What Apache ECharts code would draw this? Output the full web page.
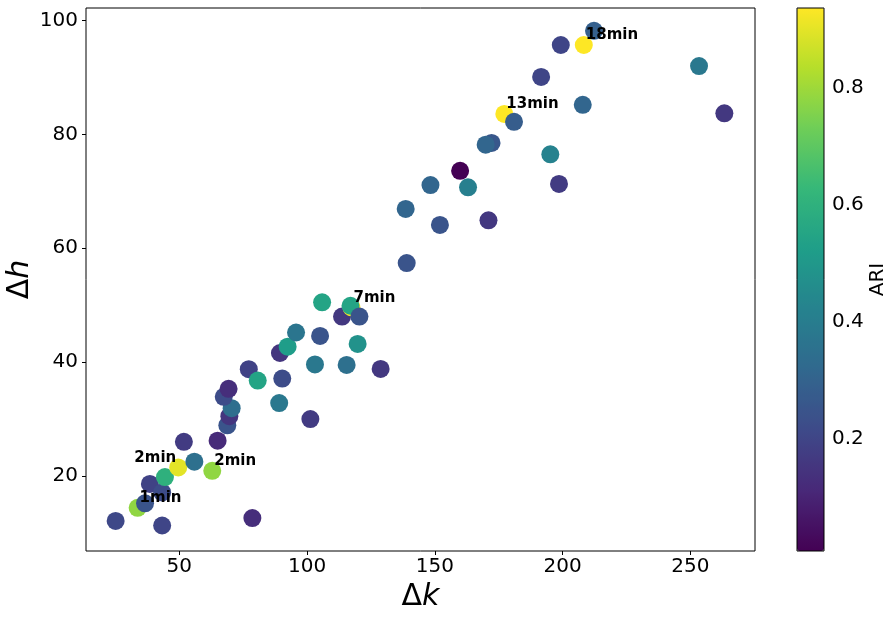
<!DOCTYPE html>
<html>
<head>
<meta charset="utf-8">
<script src="https://cdn.jsdelivr.net/npm/echarts@6/dist/echarts.min.js"></script>
<style>
html,body{margin:0;padding:0;background:#fff;}
#chart{width:893px;height:617px;}
</style>
</head>
<body>
<div id="chart"></div>
<script>
// Δk values
const dk = [25.1, 43.3, 78.6, 33.7, 36.6, 38.5, 43.3, 44.4, 49.6, 55.9,
            51.8, 62.9, 65.0, 68.8, 69.6, 70.5, 67.4, 69.3, 77.2, 80.7,
            90.3, 89.1, 101.3, 89.4, 92.4, 95.7, 103.1, 105.1, 105.9, 113.7,
            117.4, 117.0, 120.5, 119.8, 115.5, 128.8, 195.2, 159.9, 148.3, 163.0,
            198.6, 138.6, 152.0, 171.0, 139.0, 212.3, 199.3, 208.3, 191.6, 253.4,
            207.9, 263.3, 177.2, 181.0, 172.2, 169.9];
// Δh values
const dh = [12.1, 11.3, 12.6, 14.4, 15.2, 18.6, 17.1, 19.8, 21.5, 22.5,
            26.0, 20.9, 26.2, 28.9, 30.5, 31.9, 33.9, 35.3, 38.75, 36.75,
            37.1, 32.8, 30.0, 41.6, 42.7, 45.2, 39.6, 44.6, 50.5, 48.0,
            49.6, 49.9, 48.0, 43.2, 39.5, 38.8, 76.5, 73.6, 71.1, 70.7,
            71.3, 66.9, 64.1, 64.9, 57.4, 98.2, 95.7, 95.7, 90.1, 92.0,
            85.2, 83.7, 83.6, 82.2, 78.5, 78.2];
// ARI values
const ari = [0.21, 0.20, 0.13, 0.78, 0.25, 0.19, 0.22, 0.60, 0.90, 0.35,
             0.17, 0.78, 0.12, 0.25, 0.15, 0.34, 0.22, 0.13, 0.19, 0.55,
             0.22, 0.38, 0.17, 0.15, 0.52, 0.37, 0.38, 0.25, 0.55, 0.16,
             0.93, 0.55, 0.25, 0.48, 0.35, 0.16, 0.42, 0.0085, 0.31, 0.41,
             0.17, 0.31, 0.25, 0.16, 0.25, 0.29, 0.20, 0.937, 0.20, 0.38,
             0.31, 0.16, 0.937, 0.28, 0.26, 0.31];
// annotations
const annIdx = [3, 8, 11, 30, 52, 47];
const annText = ['1min', '2min', '2min', '7min', '13min', '18min'];
const annAlign = ['left', 'right', 'left', 'left', 'left', 'left'];
// tick labels
const xTicks = [50, 100, 150, 200, 250];
const yTicks = [20, 40, 60, 80, 100];
const cTicks = [0.2, 0.4, 0.6, 0.8];
const ariMin = 0.0085, ariMax = 0.937;

const viridis = ['#440154', '#482878', '#3e4a89', '#31688e', '#26828e',
                 '#1f9e89', '#35b779', '#6ece58', '#b5de2b', '#fde725'];

const font = 'DejaVu Sans';
const pts = dk.map((x, i) => [x, dh[i], ari[i]]);
const ann = annIdx.map((i, k) => ({
  value: [dk[i], dh[i]],
  label: {
    formatter: '{t|' + annText[k] + '}',
    align: annAlign[k],
    offset: [annAlign[k] === 'left' ? 2 : -2, -9.5]
  }
}));

const chart = echarts.init(document.getElementById('chart'), null, {renderer: 'canvas'});
chart.setOption({
  animation: false,
  backgroundColor: '#fff',
  grid: [
    {left: 86, right: 138, top: 8, bottom: 66, show: true, borderColor: '#000', borderWidth: 1,
     backgroundColor: 'transparent', containLabel: false, outerBoundsMode: 'none'},
    {left: 797, width: 27, top: 8, height: 543, show: true, borderColor: '#000', borderWidth: 1,
     backgroundColor: 'transparent', z: 10, containLabel: false, outerBoundsMode: 'none'}
  ],
  xAxis: [
    {
      type: 'value', gridIndex: 0, min: 13.5, max: 275.3,
      axisLine: {show: false},
      splitLine: {show: false},
      axisTick: {show: true, length: 4, lineStyle: {color: '#000'}, customValues: xTicks},
      axisLabel: {fontSize: 20, color: '#000', fontFamily: font, margin: 6, customValues: xTicks},
      name: '{a|Δ}{b|k}', nameLocation: 'middle', nameGap: 23,
      nameTextStyle: {rich: {
        a: {fontSize: 30, fontFamily: font, color: '#000'},
        b: {fontSize: 30, fontFamily: font, fontStyle: 'italic', color: '#000'}
      }}
    },
    {type: 'value', gridIndex: 1, min: 0, max: 1, show: false}
  ],
  yAxis: [
    {
      type: 'value', gridIndex: 0, min: 6.82, max: 102.2,
      axisLine: {show: false},
      splitLine: {show: false},
      axisTick: {show: true, length: 4, lineStyle: {color: '#000'}, customValues: yTicks},
      axisLabel: {fontSize: 20, color: '#000', fontFamily: font, margin: 8, customValues: yTicks},
      name: '{a|Δ}{b|h}', nameLocation: 'middle', nameGap: 51, nameRotate: 90,
      nameMoveOverlap: false,
      nameTextStyle: {rich: {
        a: {fontSize: 30, fontFamily: font, color: '#000'},
        b: {fontSize: 30, fontFamily: font, fontStyle: 'italic', color: '#000'}
      }}
    },
    {
      type: 'value', gridIndex: 1, min: ariMin, max: ariMax, position: 'right',
      axisLine: {show: false},
      splitLine: {show: false},
      axisTick: {show: true, length: 5, lineStyle: {color: '#000'}, customValues: cTicks},
      axisLabel: {fontSize: 20, color: '#000', fontFamily: font, margin: 8, customValues: cTicks,
                  formatter: v => v.toFixed(1)},
      name: 'ARI', nameLocation: 'middle', nameGap: 39, nameRotate: 90,
      nameTextStyle: {fontSize: 20, fontFamily: font, color: '#000'}
    }
  ],
  visualMap: {
    type: 'continuous', seriesIndex: 0, dimension: 2,
    min: ariMin, max: ariMax, calculable: false, show: true,
    left: 797, top: 8, itemWidth: 27, itemHeight: 543, padding: 0,
    text: null, showLabel: false,
    inRange: {color: viridis}
  },
  series: [
    {
      type: 'scatter', xAxisIndex: 0, yAxisIndex: 0,
      symbol: 'circle', symbolSize: 18, data: pts,
      itemStyle: {opacity: 1}, emphasis: {disabled: true}
    },
    {
      type: 'scatter', xAxisIndex: 0, yAxisIndex: 0, z: 5,
      symbolSize: 0, data: ann, silent: true,
      itemStyle: {opacity: 1, color: '#000'},
      label: {show: true, position: [0, 0], verticalAlign: 'middle', color: '#000',
              rich: {t: {fontSize: 15, fontWeight: 'bold', fontFamily: font, color: '#000'}}}
    }
  ]
});
</script>
</body>
</html>
